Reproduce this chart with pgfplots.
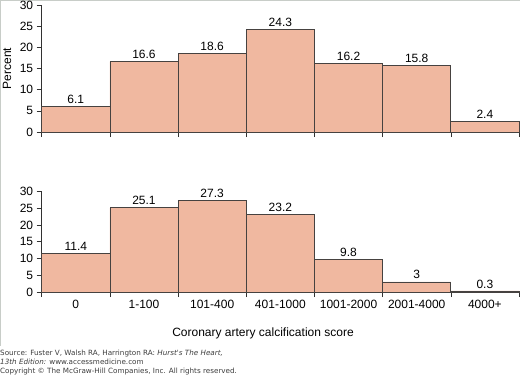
\documentclass[border=0pt]{standalone}
\usepackage{fontspec}
\setmainfont{Liberation Sans}
\newfontfamily\footfont{DejaVu Sans}
\usepackage{pgfplots}
\pgfplotsset{compat=1.18}
\definecolor{barfill}{RGB}{240,184,160}
\definecolor{baredge}{RGB}{70,66,64}
\definecolor{axcol}{RGB}{50,50,50}
\definecolor{framecol}{RGB}{200,205,200}
\definecolor{foot}{RGB}{60,60,60}
\begin{document}
\begin{tikzpicture}[x=1pt,y=1pt]
\useasboundingbox (0,0) rectangle (520,376);
\draw[framecol,line width=1pt] (0.5,376) -- (0.5,30);
\draw[framecol,line width=1pt] (0,375.5) -- (520,375.5);
\pgfplotsset{
  myax/.style={
    scale only axis,
    width=477.3pt,
    xmin=0, xmax=7,
    ymin=0, ymax=30,
    ytick={0,5,...,30},
    xtick={0,...,7},
    axis x line=bottom,
    axis y line=left,
    axis line style={-, axcol, line width=0.6pt},
    tick style={axcol, line width=0.6pt},
    tick align=outside,
    major tick length=5pt,
    tick label style={font=\fontsize{12}{14}\selectfont, text=black},
    /pgf/number format/assume math mode=true,
    clip=false,
    ybar,
    bar width=1,
    nodes near coords,
    every node near coord/.append style={font=\fontsize{12}{14}\selectfont, text=black, anchor=south, inner sep=2.5pt},
  }
}
\begin{axis}[myax,
  at={(41.7pt,244pt)}, anchor=south west,
  height=127pt,
  xticklabels={},
  ylabel={Percent},
  every axis y label/.style={at={(axis description cs:-0.0727,0.5)}, rotate=90, anchor=center, font=\fontsize{12}{14}\selectfont},
]
\addplot[fill=barfill, draw=baredge, line width=0.7pt] coordinates {
(0.5,6.1) (1.5,16.6) (2.5,18.6) (3.5,24.3) (4.5,16.2) (5.5,15.8) (6.5,2.4)};
\end{axis}
\begin{axis}[myax,
  at={(41.7pt,84pt)}, anchor=south west,
  height=100.6pt,
  x tick label as interval,
  xticklabels={0,1-100,101-400,401-1000,1001-2000,2001-4000,4000+},
  xlabel={Coronary artery calcification score},
  every axis x label/.style={at={(axis description cs:0.4637,-0.4076)}, anchor=center, font=\fontsize{12}{14}\selectfont},
]
\addplot[fill=barfill, draw=baredge, line width=0.7pt] coordinates {
(0.5,11.4) (1.5,25.1) (2.5,27.3) (3.5,23.2) (4.5,9.8) (5.5,3) (6.5,0.3)};
\end{axis}
\begin{scope}[every node/.style={anchor=west, inner sep=0pt, text=foot, font=\footfont\fontsize{7.2}{8.5}\selectfont}]
\node at (0,22) {Source: Fuster V, Walsh RA, Harrington RA: \textit{Hurst's The Heart,}};
\node at (0,14) {\textit{13th Edition:} www.accessmedicine.com};
\node at (0,4) {Copyright \textcopyright{} The McGraw-Hill Companies, Inc. All rights reserved.};
\end{scope}
\end{tikzpicture}
\end{document}
